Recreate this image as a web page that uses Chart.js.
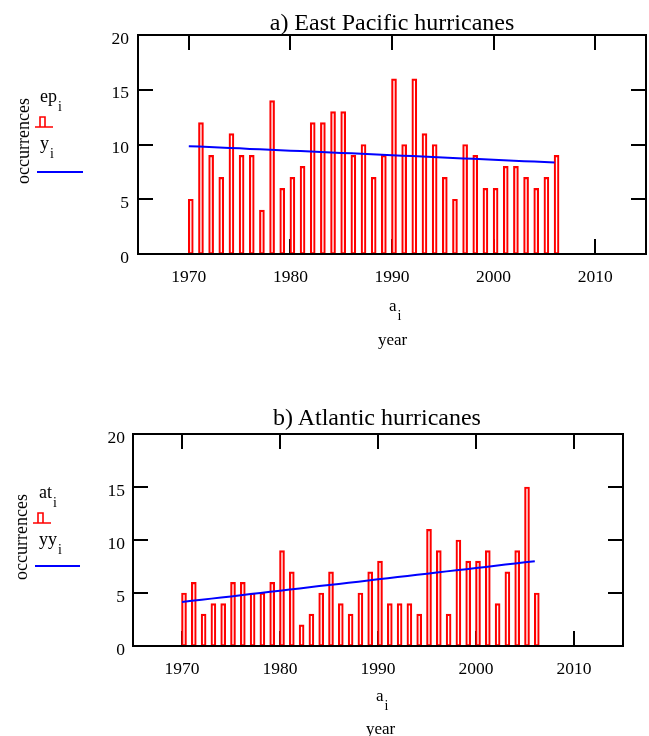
<!DOCTYPE html>
<html>
<head>
<meta charset="utf-8">
<script src="https://cdn.jsdelivr.net/npm/chart.js@4/dist/chart.umd.min.js"></script>
<style>
  html, body { margin: 0; padding: 0; background: #fff; }
  body { width: 649px; height: 736px; position: relative; overflow: hidden; font-family: "Liberation Serif", "Times New Roman", serif; color: #000; }
  canvas { position: absolute; left: 0; }
  .t { position: absolute; white-space: nowrap; line-height: 1; }
  .t sub { font-size: 14px; vertical-align: baseline; position: relative; top: 9px; margin-left: 1px; }
  .title { position: absolute; white-space: nowrap; font-size: 24px; line-height: 24px; transform: translateX(-50%); }
  .rot { transform: translate(-50%, -50%) rotate(-90deg); }
  .legbar { position: absolute; }
  .legline { position: absolute; height: 2px; background: #0000ff; }
</style>
</head>
<body>
<canvas id="c1" width="649" height="360" style="top:0"></canvas>
<canvas id="c2" width="649" height="337" style="top:399px"></canvas>

<!-- panel a texts -->
<div class="title" id="titleA" style="left:392px; top:10px;"></div>
<div class="t rot" style="left:23px; top:141px; font-size:18px;">occurrences</div>
<div class="t" style="left:40px; top:87px; font-size:18px;">ep<sub>i</sub></div>
<svg class="legbar" style="left:34px; top:114px;" width="22" height="16"><path d="M1 13 H19 M6 13 V3 H11 V13" stroke="#ff0000" stroke-width="1.6" fill="none"/></svg>
<div class="t" style="left:40px; top:134px; font-size:18px;">y<sub>i</sub></div>
<div class="legline" style="left:37px; top:171px; width:46px;"></div>
<div class="t" style="left:389px; top:297px; font-size:17px;">a<sub>i</sub></div>
<div class="t" style="left:378px; top:331px; font-size:17px;">year</div>

<!-- panel b texts -->
<div class="title" id="titleB" style="left:377px; top:405px;"></div>
<div class="t rot" style="left:21px; top:537px; font-size:18px;">occurrences</div>
<div class="t" style="left:39px; top:483px; font-size:18px;">at<sub>i</sub></div>
<svg class="legbar" style="left:32px; top:510px;" width="22" height="16"><path d="M1 13 H19 M6 13 V3 H11 V13" stroke="#ff0000" stroke-width="1.6" fill="none"/></svg>
<div class="t" style="left:39px; top:530px; font-size:18px;">yy<sub>i</sub></div>
<div class="legline" style="left:35px; top:565px; width:45px;"></div>
<div class="t" style="left:376px; top:687px; font-size:17px;">a<sub>i</sub></div>
<div class="t" style="left:366px; top:720px; font-size:17px;">year</div>

<script>
// ---------- data ----------
const years = [1970,1971,1972,1973,1974,1975,1976,1977,1978,1979,
               1980,1981,1982,1983,1984,1985,1986,1987,1988,1989,
               1990,1991,1992,1993,1994,1995,1996,1997,1998,1999,
               2000,2001,2002,2003,2004,2005,2006];

// East Pacific hurricane counts (ep_i)
const ep = [5,12,9,7,11,9,9,4,14,6,
            7,8,12,12,13,13,9,10,7,9,
            16,10,16,11,10,7,5,10,9,6,
            6,8,8,7,6,7,9];

// East Pacific trend (y_i)
const yTrend = [9.85,9.81,9.77,9.73,9.69,9.65,9.60,9.56,9.52,9.48,
                9.44,9.40,9.35,9.31,9.27,9.23,9.19,9.15,9.10,9.06,
                9.02,8.98,8.94,8.90,8.85,8.81,8.77,8.73,8.69,8.65,
                8.60,8.56,8.52,8.48,8.44,8.40,8.35];

// Atlantic hurricane counts (at_i)
const at = [5,6,3,4,4,6,6,5,5,6,
            9,7,2,3,5,7,4,3,5,7,
            8,4,4,4,3,11,9,3,10,8,
            8,9,4,7,9,15,5];

// Atlantic trend (yy_i)
const yyTrend = [4.15,4.26,4.36,4.47,4.58,4.68,4.79,4.90,5.00,5.11,
                 5.22,5.33,5.43,5.54,5.65,5.75,5.86,5.97,6.07,6.18,
                 6.29,6.39,6.50,6.61,6.72,6.82,6.93,7.04,7.14,7.25,
                 7.36,7.46,7.57,7.68,7.79,7.89,8.00];

// tick labels
const xTickYears = [1970, 1980, 1990, 2000, 2010];
const yTickValues = [0, 5, 10, 15, 20];

const xMin = 1965, xMax = 2015;
const yMin = 0, yMax = 20;
const titleA = 'a) East Pacific hurricanes';
const titleB = 'b) Atlantic hurricanes';

document.getElementById('titleA').textContent = titleA;
document.getElementById('titleB').textContent = titleB;

// ---------- drawing ----------
const SERIF = '"Liberation Serif", "Times New Roman", serif';

const frameTicks = {
  id: 'frameTicks',
  beforeDatasetsDraw(chart) {
    const {ctx, chartArea: a, scales: {x, y}} = chart;
    const L = 15;
    ctx.save();
    ctx.strokeStyle = '#000';
    ctx.lineWidth = 2;
    ctx.beginPath();
    x.ticks.forEach(t => {
      const px = Math.round(x.getPixelForValue(t.value));
      ctx.moveTo(px, a.bottom); ctx.lineTo(px, a.bottom - L);
      ctx.moveTo(px, a.top); ctx.lineTo(px, a.top + L);
    });
    y.ticks.forEach(t => {
      if (t.value <= yMin || t.value >= yMax) return;
      const py = Math.round(y.getPixelForValue(t.value));
      ctx.moveTo(a.left, py); ctx.lineTo(a.left + L, py);
      ctx.moveTo(a.right, py); ctx.lineTo(a.right - L, py);
    });
    ctx.stroke();
    ctx.restore();
  },
  // bars in the original start at the year position (left-aligned): shift bar drawing by half a bar
  beforeDatasetDraw(chart, args) {
    if (args.index === 0) { chart.ctx.save(); chart.ctx.translate(2, 0); }
  },
  afterDatasetDraw(chart, args) {
    if (args.index === 0) { chart.ctx.restore(); }
  },
  afterDatasetsDraw(chart) {
    const {ctx, chartArea: a} = chart;
    ctx.save();
    ctx.strokeStyle = '#000';
    ctx.lineWidth = 2;
    ctx.strokeRect(a.left, a.top, a.right - a.left, a.bottom - a.top);
    ctx.restore();
  }
};

function makeChart(id, counts, trend, yAxisWidth, xAxisHeight, rightPad, yPad) {
  return new Chart(document.getElementById(id), {
    type: 'bar',
    data: {
      datasets: [
        {
          type: 'bar',
          data: years.map((yr, i) => ({x: yr, y: counts[i]})),
          backgroundColor: 'rgba(0,0,0,0)',
          borderColor: '#ff0000',
          borderWidth: 1.5,
          borderSkipped: false,
          barThickness: 5,
          order: 2
        },
        {
          type: 'line',
          data: years.map((yr, i) => ({x: yr, y: trend[i]})),
          borderColor: '#0000ff',
          borderWidth: 2,
          pointRadius: 0,
          tension: 0,
          fill: false,
          order: 1
        }
      ]
    },
    options: {
      responsive: false,
      animation: false,
      devicePixelRatio: 1,
      layout: {padding: {left: 0, right: rightPad, top: 35, bottom: 0}},
      plugins: {
        legend: {display: false},
        tooltip: {enabled: false},
        title: {display: false}
      },
      scales: {
        x: {
          type: 'linear',
          min: xMin, max: xMax,
          offset: false,
          grid: {display: false, drawTicks: false},
          border: {display: false},
          afterFit: s => { s.height = xAxisHeight; },
          afterBuildTicks: s => { s.ticks = xTickYears.map(v => ({value: v})); },
          ticks: {
            autoSkip: false,
            maxRotation: 0,
            padding: 13,
            color: '#000',
            font: {family: SERIF, size: 17.5},
            callback: v => String(v)
          }
        },
        y: {
          min: yMin, max: yMax,
          grid: {display: false, drawTicks: false},
          border: {display: false},
          afterFit: s => { s.width = yAxisWidth; },
          afterBuildTicks: s => { s.ticks = yTickValues.map(v => ({value: v})); },
          ticks: {
            padding: yPad,
            labelOffset: 4,
            color: '#000',
            font: {family: SERIF, size: 17.5},
            callback: v => String(v)
          }
        }
      }
    },
    plugins: [frameTicks]
  });
}

makeChart('c1', ep, yTrend, 138, 106, 3, 9);
makeChart('c2', at, yyTrend, 133, 90, 26, 8);
</script>
</body>
</html>
